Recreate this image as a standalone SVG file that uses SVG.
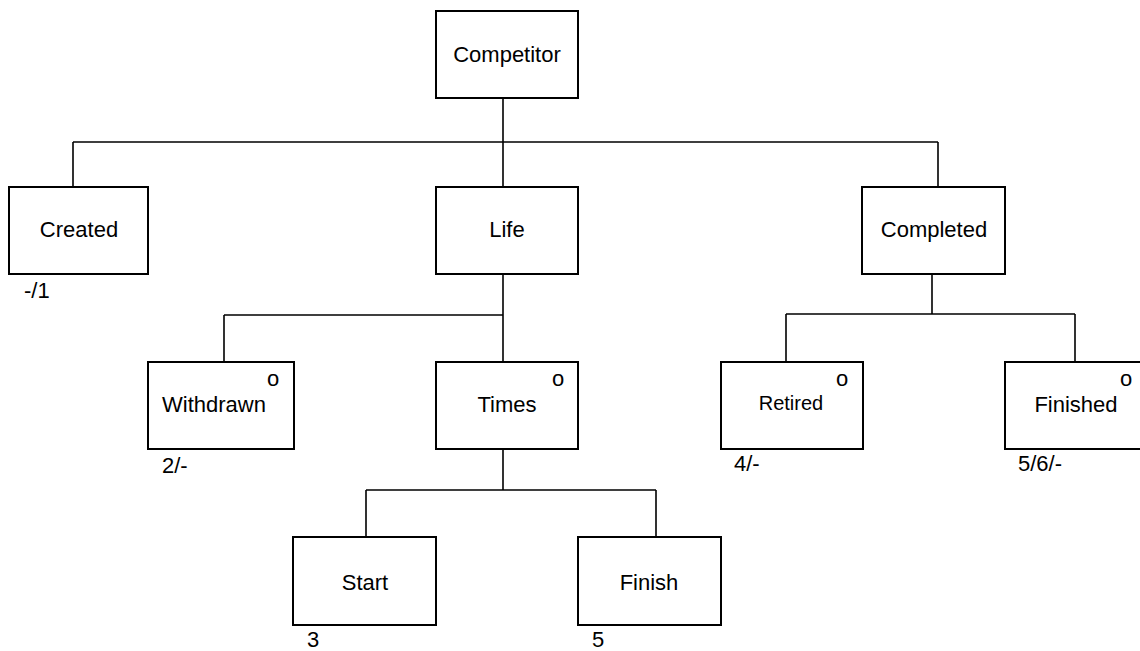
<svg xmlns="http://www.w3.org/2000/svg" width="1140" height="651" viewBox="0 0 1140 651">
<style>
.box{fill:#fff;stroke:#000;stroke-width:2}
.ln{fill:none;stroke:#000;stroke-width:1.6}
text{font-family:"Liberation Sans",Arial,sans-serif;font-size:22px;fill:#000}
.c{text-anchor:middle}
.sm{font-size:20px}
</style>
<rect width="1140" height="651" fill="#fff"/>
<g id="connectors">
<path class="ln" d="M503,98 V187 M73,142 H938 M73,142 V187 M938,142 V187"/>
<path class="ln" d="M503,274 V362 M224,315 H503 M224,315 V362"/>
<path class="ln" d="M932,274 V314 M786,314 H1075 M786,314 V362 M1075,314 V362"/>
<path class="ln" d="M503,449 V490 M366,490 H656 M366,490 V537 M656,490 V537"/>
</g>
<g id="competitor"><rect class="box" x="436" y="11" width="142" height="87"/><text class="c" x="507" y="62">Competitor</text></g>
<g id="created"><rect class="box" x="9" y="187" width="139" height="87"/><text class="c" x="79" y="237">Created</text><text x="24" y="298">-/1</text></g>
<g id="life"><rect class="box" x="436" y="187" width="142" height="87"/><text class="c" x="507" y="237">Life</text></g>
<g id="completed"><rect class="box" x="862" y="187" width="143" height="87"/><text class="c" x="934" y="237">Completed</text></g>
<g id="withdrawn"><rect class="box" x="148" y="362" width="146" height="87"/><text class="c" x="273" y="386">o</text><text class="c" x="214" y="412">Withdrawn</text><text x="162" y="473">2/-</text></g>
<g id="times"><rect class="box" x="436" y="362" width="142" height="87"/><text class="c" x="558" y="386">o</text><text class="c" x="507" y="412">Times</text></g>
<g id="retired"><rect class="box" x="721" y="362" width="142" height="87"/><text class="c" x="842" y="386">o</text><text class="c sm" x="791" y="410">Retired</text><text x="734" y="471">4/-</text></g>
<g id="finished"><rect class="box" x="1005" y="362" width="142" height="87"/><text class="c" x="1126" y="386">o</text><text class="c" x="1076" y="412">Finished</text><text x="1018" y="471">5/6/-</text></g>
<g id="start"><rect class="box" x="293" y="537" width="143" height="88"/><text class="c" x="365" y="590">Start</text><text x="307" y="647">3</text></g>
<g id="finish"><rect class="box" x="578" y="537" width="143" height="88"/><text class="c" x="649" y="590">Finish</text><text x="592" y="647">5</text></g>
</svg>
